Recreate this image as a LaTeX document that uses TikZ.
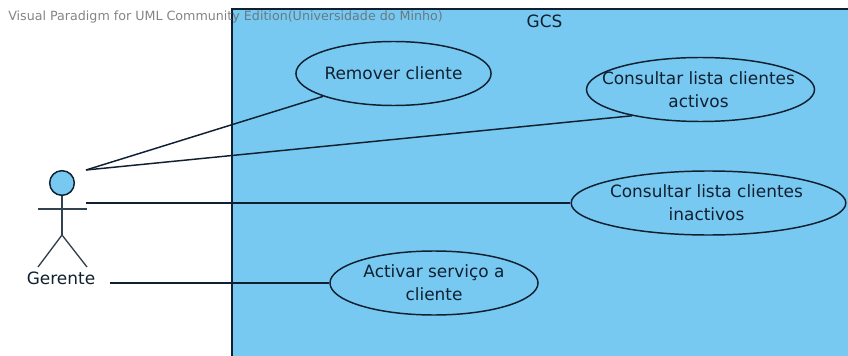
\documentclass[tikz,border=0pt]{standalone}
\usepackage{fontspec}
\setmainfont{DejaVu Sans}
\usetikzlibrary{shapes.geometric}
\definecolor{ucblue}{RGB}{119,201,241}
\definecolor{ucline}{RGB}{16,32,48}
\tikzset{
  usecase/.style={ellipse,draw=ucline,line width=1.1pt,fill=ucblue,inner sep=0pt,align=center,text=ucline,font=\fontsize{12.7}{17.3}\selectfont,minimum height=48pt},
  link/.style={draw=ucline,line width=1.1pt},
  stick/.style={draw=ucline!85!white,line width=1pt},
  lbl/.style={inner sep=0pt,text=ucline,font=\fontsize{12.7}{15}\selectfont}
}
\begin{document}
\begin{tikzpicture}[x=0.75pt,y=-0.75pt]
\useasboundingbox (0,0) rectangle (848,356);
\fill[white] (0,0) rectangle (848,356);
% system boundary
\fill[ucblue] (232,9) rectangle (848,356);
\draw[ucline,line width=0.9pt] (232,356) -- (232,9) -- (848,9);
\node[lbl] (gcs) at (544.5,21) {GCS};
\node[inner sep=0pt,anchor=west,text=black!60,text opacity=0.8,font=\fontsize{9.5}{11}\selectfont] (wm) at (8,17) {Visual Paradigm for UML Community Edition(Universidade do Minho)};
% use cases
\node[usecase,minimum width=146pt] (rem) at (393.5,73.5) {Remover cliente};
\node[usecase,minimum width=171pt,inner xsep=-20pt,inner ysep=-5pt] (act) at (700.5,89.5) {Consultar lista clientes\hspace*{3pt}\\activos\hspace*{3pt}};
\node[usecase,minimum width=206pt,inner xsep=-20pt,inner ysep=-5pt] (ina) at (708.5,203) {Consultar lista clientes\hspace*{3pt}\\inactivos\hspace*{3pt}};
\node[usecase,minimum width=156pt] (srv) at (434,283) {Activar serviço a\\cliente};
% actor
\node[circle,draw=ucline,line width=1.1pt,fill=ucblue,minimum size=18.5pt,inner sep=0pt] (head) at (62,183) {};
\coordinate (hip) at (62,235);
\coordinate (armL) at (38,209);
\coordinate (armR) at (87,209);
\coordinate (legL) at (38,267);
\coordinate (legR) at (87,267);
\draw[stick] (head) -- (hip);
\draw[stick] (armL) -- (armR);
\draw[stick] (legL) -- (hip) -- (legR);
\node[lbl] (ger) at (61,278) {Gerente};
% connector ends at the actor
\coordinate (a1) at (86,170);
\coordinate (a2) at (86,203);
\coordinate (a3) at (110,283);
\draw[link] (a1) -- (rem.198.7);
\draw[link] (a1) -- (act.201.6);
\draw[link] (a2) -- (ina.west);
\draw[link] (a3) -- (srv.west);
\end{tikzpicture}
\end{document}
